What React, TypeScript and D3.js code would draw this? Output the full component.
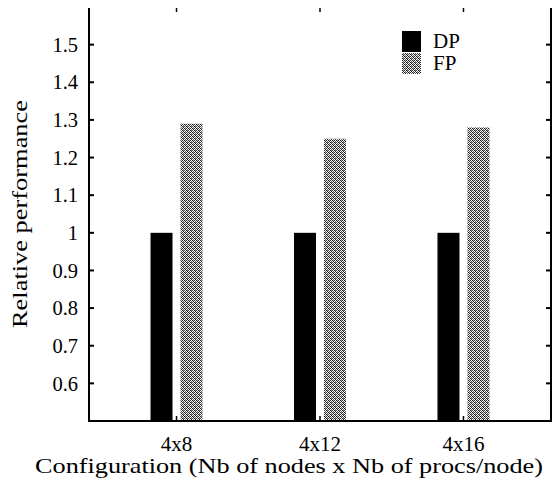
import React, { useRef, useEffect } from "react";
import * as d3 from "d3";

const categories = ["4x8", "4x12", "4x16"];
const dpValues = [1.0, 1.0, 1.0];
const fpValues = [1.29, 1.25, 1.28];
const yTicks = [0.6, 0.7, 0.8, 0.9, 1, 1.1, 1.2, 1.3, 1.4, 1.5];
const seriesNames = ["DP", "FP"];

const width = 560;
const height = 484;
const margin = { top: 7, right: 9, bottom: 63, left: 89 };
const font = "'Liberation Serif', 'DejaVu Serif', 'Times New Roman', serif";

const App: React.FC = () => {
  const svgRef = useRef<SVGSVGElement | null>(null);

  useEffect(() => {
    if (!svgRef.current) return;
    const svg = d3.select(svgRef.current);
    svg.selectAll("*").remove();

    // dithered grey fill for FP
    const defs = svg.append("defs");
    const pat = defs
      .append("pattern")
      .attr("id", "dither")
      .attr("width", 4)
      .attr("height", 4)
      .attr("patternUnits", "userSpaceOnUse");
    pat.append("rect").attr("width", 4).attr("height", 4).attr("fill", "#fff");
    const cells = [
      [0, 0, "#111"], [2, 0, "#333"], [1, 1, "#222"], [3, 1, "#555"],
      [0, 2, "#444"], [2, 2, "#111"], [1, 3, "#666"], [3, 3, "#222"],
      [1, 0, "#bbb"], [3, 2, "#999"],
    ] as [number, number, string][];
    cells.forEach(([cx, cy, c]) =>
      pat.append("rect").attr("x", cx).attr("y", cy).attr("width", 1).attr("height", 1).attr("fill", c)
    );

    const x = d3
      .scalePoint<string>()
      .domain(categories)
      .range([margin.left, width - margin.right])
      .padding(0.61);

    const y = d3
      .scaleLinear()
      .domain([0.5, 1.6])
      .range([height - margin.bottom, margin.top]);

    const barW = 22;

    svg
      .append("g")
      .selectAll("rect")
      .data(dpValues)
      .join("rect")
      .attr("x", (_, i) => (x(categories[i]) as number) - 26)
      .attr("y", (d) => y(d))
      .attr("width", barW)
      .attr("height", (d) => y(0.5) - y(d))
      .attr("fill", "#000");

    svg
      .append("g")
      .selectAll("rect")
      .data(fpValues)
      .join("rect")
      .attr("x", (_, i) => (x(categories[i]) as number) + 4)
      .attr("y", (d) => y(d))
      .attr("width", barW)
      .attr("height", (d) => y(0.5) - y(d))
      .attr("fill", "url(#dither)");

    // frame
    svg
      .append("rect")
      .attr("x", margin.left)
      .attr("y", margin.top)
      .attr("width", width - margin.left - margin.right)
      .attr("height", height - margin.top - margin.bottom)
      .attr("fill", "none")
      .attr("stroke", "#000")
      .attr("stroke-width", 2);

    // y ticks (inward, both sides)
    const yAx = svg.append("g").style("font-family", font).attr("font-size", 20.5);
    yTicks.forEach((t) => {
      yAx.append("line").attr("x1", margin.left).attr("x2", margin.left + 5)
        .attr("y1", y(t)).attr("y2", y(t)).attr("stroke", "#000").attr("stroke-width", 2);
      yAx.append("line").attr("x1", width - margin.right).attr("x2", width - margin.right - 5)
        .attr("y1", y(t)).attr("y2", y(t)).attr("stroke", "#000").attr("stroke-width", 2);
      yAx.append("text").attr("x", margin.left - 11).attr("y", y(t)).attr("dy", "0.35em")
        .attr("text-anchor", "end").text(d3.format("")(t));
    });

    // x ticks
    const xAx = svg.append("g").style("font-family", font).attr("font-size", 21);
    categories.forEach((c) => {
      const cx = x(c) as number;
      xAx.append("line").attr("x1", cx).attr("x2", cx)
        .attr("y1", height - margin.bottom).attr("y2", height - margin.bottom - 5)
        .attr("stroke", "#000").attr("stroke-width", 1.5);
      xAx.append("line").attr("x1", cx).attr("x2", cx)
        .attr("y1", margin.top).attr("y2", margin.top + 5)
        .attr("stroke", "#000").attr("stroke-width", 1.5);
      xAx.append("text").attr("x", cx).attr("y", height - margin.bottom + 30)
        .attr("text-anchor", "middle").text(c);
    });

    // axis titles
    svg.append("text")
      .attr("x", 289)
      .attr("y", 473)
      .attr("text-anchor", "middle")
      .style("font-family", font)
      .attr("font-size", 21.5)
      .attr("textLength", 508)
      .attr("lengthAdjust", "spacingAndGlyphs")
      .text("Configuration (Nb of nodes x Nb of procs/node)");

    svg.append("text")
      .attr("transform", `translate(27,214) rotate(-90)`)
      .attr("text-anchor", "middle")
      .style("font-family", font)
      .attr("font-size", 21.5)
      .attr("textLength", 228)
      .attr("lengthAdjust", "spacingAndGlyphs")
      .text("Relative performance");

    // legend
    const fills = ["#000", "url(#dither)"];
    const lg = svg.append("g").style("font-family", font).attr("font-size", 21);
    seriesNames.forEach((s, i) => {
      lg.append("rect").attr("x", 402).attr("y", 31 + i * 22).attr("width", 19).attr("height", 21)
        .attr("fill", fills[i]);
      lg.append("text").attr("x", 433).attr("y", 48 + i * 22).text(s);
    });
  }, []);

  return <svg ref={svgRef} width={width} height={height} style={{ display: "block", margin: "-8px 0 0 -8px" }} />;
};

export default App;
